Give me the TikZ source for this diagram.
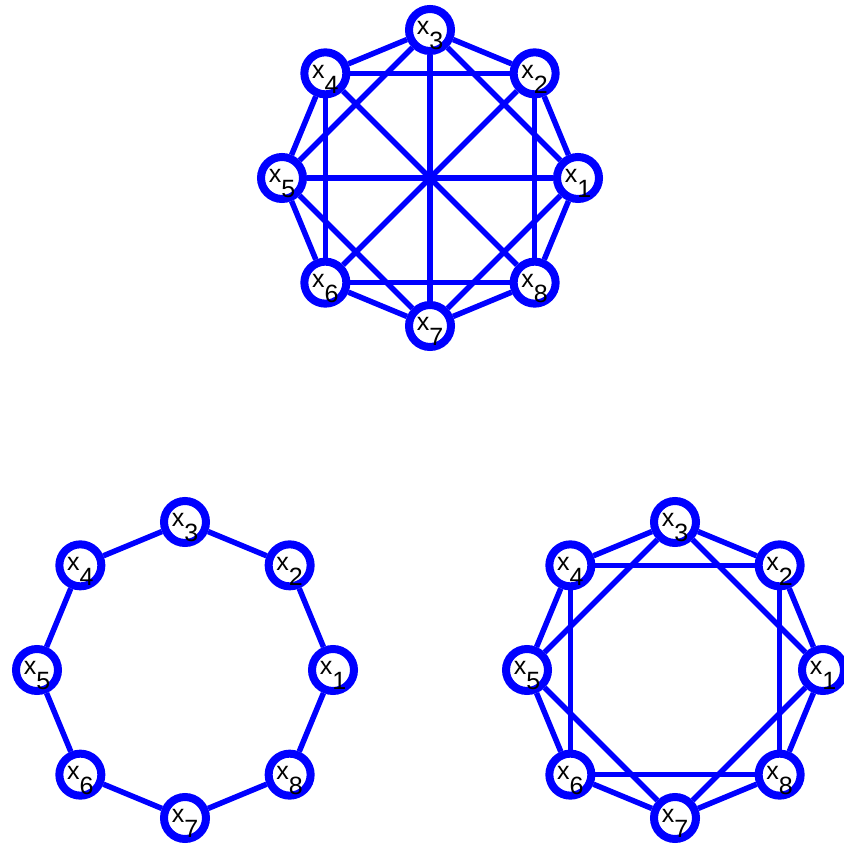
\documentclass[tikz,border=0pt]{standalone}
\usepackage{fontspec}
\setmainfont{Liberation Sans}
\usetikzlibrary{backgrounds,calc}

\tikzset{
  vert/.style={circle, draw=blue, line width=8pt, fill=white,
    minimum size=42pt, inner sep=0pt},
  lab/.style={inner sep=0pt, outer sep=0pt},
  link/.style={draw=blue, line width=5.5pt}
}
\newcommand{\xsub}[1]{\fontsize{25}{28}\selectfont\rule{0pt}{25pt}x\raisebox{-15pt}{#1}}

\begin{document}
\begin{tikzpicture}[x=1pt, y=1pt]
  \useasboundingbox (0,0) rectangle (843,848);

  % three graphs on 8 vertices
  \foreach \g/\cx/\cy in {t/430/670, l/185/178, r/675/178} {
    \foreach \k in {1,...,8} {
      \node[vert] (\g\k) at ($(\cx,\cy)+({(\k-1)*45}:148)$) {};
      \node[lab] (\g\k-lab) at (\g\k) {\xsub{\k}};
    }
  }

  \begin{scope}[on background layer]
    % top: neighbours at distance 1, 2 and 4
    \foreach \k in {1,...,8} {
      \foreach \d in {1,2} {
        \pgfmathtruncatemacro\j{mod(\k+\d-1,8)+1}
        \draw[link] (t\k) -- (t\j);
      }
    }
    \foreach \k in {1,...,4} {
      \pgfmathtruncatemacro\j{\k+4}
      \draw[link] (t\k) -- (t\j);
    }

    % bottom left: cycle
    \foreach \k in {1,...,8} {
      \pgfmathtruncatemacro\j{mod(\k,8)+1}
      \draw[link] (l\k) -- (l\j);
    }

    % bottom right: distance 1 and 2
    \foreach \k in {1,...,8} {
      \foreach \d in {1,2} {
        \pgfmathtruncatemacro\j{mod(\k+\d-1,8)+1}
        \draw[link] (r\k) -- (r\j);
      }
    }
  \end{scope}
\end{tikzpicture}
\end{document}
